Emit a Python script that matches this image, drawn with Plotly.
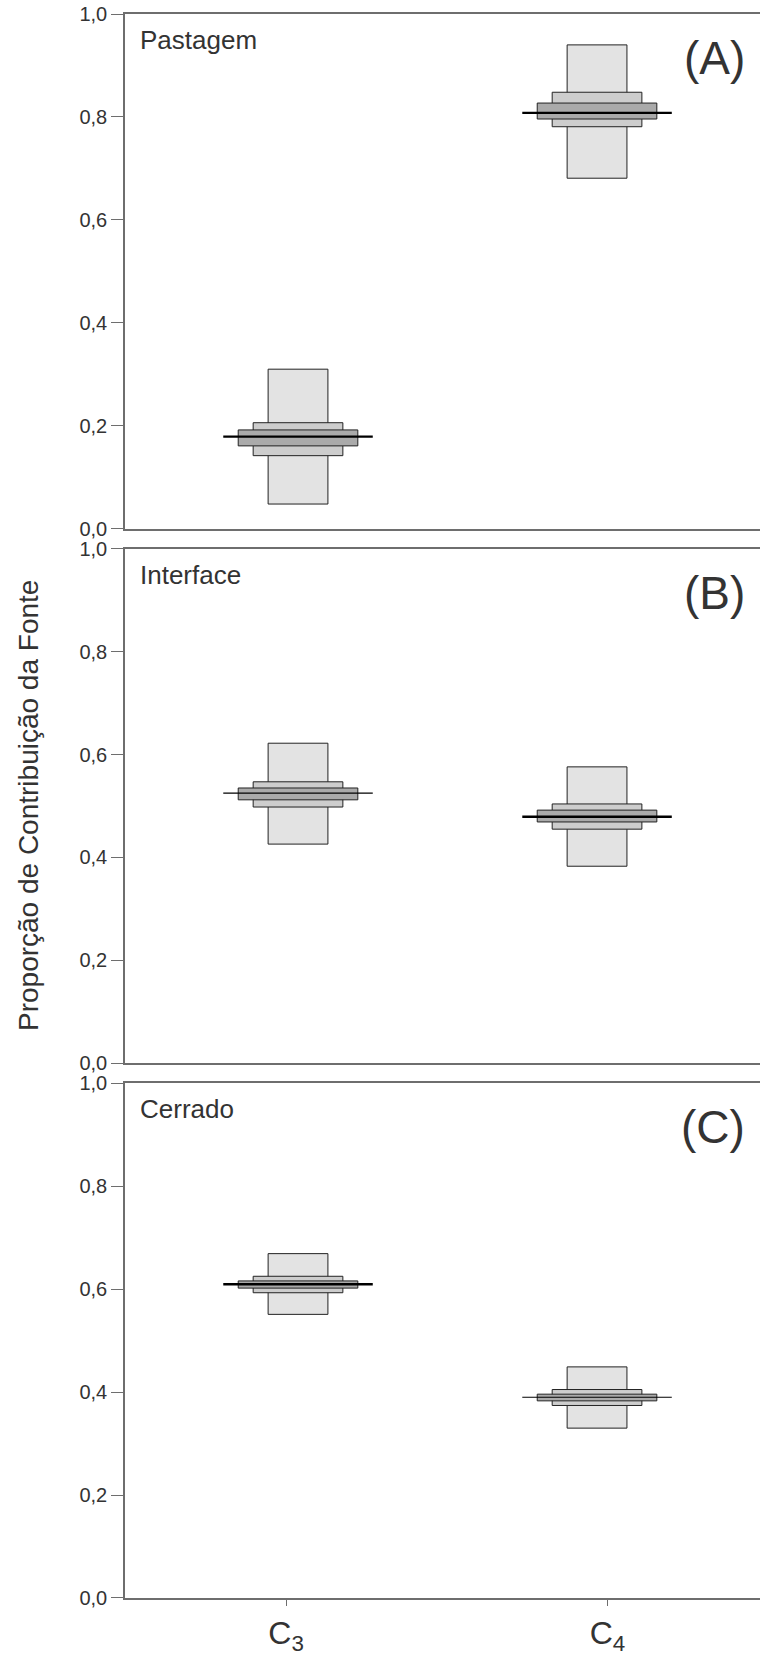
import plotly.graph_objects as go
from plotly.subplots import make_subplots

# ---------------- data ----------------
categories = ["C3", "C4"]
cat_pos = [0, 1]
tick_pos = [-0.04, 1.035]
tick_text = ["C<sub>3</sub>", "C<sub>4</sub>"]
panel_names = ["Pastagem", "Interface", "Cerrado"]
panel_letters = ["(A)", "(B)", "(C)"]
y_tickvals = [0, 0.2, 0.4, 0.6, 0.8, 1.0]
y_ticktext = ["0,0", "0,2", "0,4", "0,6", "0,8", "1,0"]

# Pastagem
pas_outer_lo = [0.048, 0.681]
pas_outer_hi = [0.310, 0.940]
pas_mid_lo = [0.142, 0.781]
pas_mid_hi = [0.206, 0.848]
pas_inn_lo = [0.161, 0.796]
pas_inn_hi = [0.192, 0.827]
pas_med = [0.179, 0.808]

# Interface
int_outer_lo = [0.426, 0.383]
int_outer_hi = [0.622, 0.576]
int_mid_lo = [0.498, 0.455]
int_mid_hi = [0.547, 0.504]
int_inn_lo = [0.512, 0.469]
int_inn_hi = [0.535, 0.492]
int_med = [0.525, 0.479]

# Cerrado
cer_outer_lo = [0.551, 0.330]
cer_outer_hi = [0.669, 0.449]
cer_mid_lo = [0.593, 0.374]
cer_mid_hi = [0.625, 0.405]
cer_inn_lo = [0.602, 0.383]
cer_inn_hi = [0.616, 0.396]
cer_med = [0.6096, 0.390]

panels = [
    (pas_outer_lo, pas_outer_hi, pas_mid_lo, pas_mid_hi, pas_inn_lo, pas_inn_hi, pas_med),
    (int_outer_lo, int_outer_hi, int_mid_lo, int_mid_hi, int_inn_lo, int_inn_hi, int_med),
    (cer_outer_lo, cer_outer_hi, cer_mid_lo, cer_mid_hi, cer_inn_lo, cer_inn_hi, cer_med),
]

# ---------------- styles ----------------
W_OUTER, W_MID, W_INN, W_LINE = 0.2, 0.3, 0.4, 0.5
C_OUTER, C_MID, C_INN = "#e3e3e3", "#cdcdcd", "#aaaaaa"
EDGE = "#222222"
med_widths = [[2.4, 2.4], [1.2, 2.4], [2.4, 1.2]]
FONT = "Liberation Sans, Arial, sans-serif"
TXT = "#333333"
AX = "#6e6e6e"

fig = make_subplots(rows=3, cols=1, vertical_spacing=20 / 1594)

for i, (olo, ohi, mlo, mhi, ilo, ihi, med) in enumerate(panels):
    r = i + 1
    for lo, hi, w, col in [(olo, ohi, W_OUTER, C_OUTER), (mlo, mhi, W_MID, C_MID), (ilo, ihi, W_INN, C_INN)]:
        fig.add_trace(go.Bar(
            x=cat_pos, base=lo, y=[h - l for h, l in zip(hi, lo)], width=w,
            marker=dict(color=col, line=dict(color=EDGE, width=1)),
            showlegend=False, hoverinfo="skip"), row=r, col=1)
    for j, c in enumerate(cat_pos):
        fig.add_trace(go.Scatter(
            x=[c - W_LINE / 2, c + W_LINE / 2], y=[med[j], med[j]], mode="lines",
            line=dict(color="#000000", width=med_widths[i][j]),
            showlegend=False, hoverinfo="skip"), row=r, col=1)

    xa = dict(range=[-0.5786, 1.545], showline=True, linecolor=AX, linewidth=1.5,
              mirror=True, showgrid=False, zeroline=False)
    if r == 3:
        xa.update(tickmode="array", tickvals=tick_pos, ticktext=tick_text, ticks="outside",
                  ticklen=6, tickcolor=AX, tickwidth=1,
                  tickfont=dict(family=FONT, size=32, color=TXT))
    else:
        xa.update(showticklabels=False, ticks="")
    fig.update_xaxes(**xa, row=r, col=1)
    fig.update_yaxes(range=[0, 1], tickmode="array", tickvals=y_tickvals, ticktext=y_ticktext,
                     ticks="outside", ticklen=12, tickcolor=AX, tickwidth=1,
                     showline=True, linecolor=AX, linewidth=1.5, showgrid=False, zeroline=False,
                     tickfont=dict(family=FONT, size=20, color=TXT), row=r, col=1)

    xref = "x domain" if r == 1 else f"x{r} domain"
    yref = "y domain" if r == 1 else f"y{r} domain"
    fig.add_annotation(text=panel_names[i], xref=xref, yref=yref, x=0.0205, y=1,
                       xanchor="left", yanchor="middle", yshift=-26, showarrow=False,
                       font=dict(family=FONT, size=26, color=TXT))
    fig.add_annotation(text=panel_letters[i], xref=xref, yref=yref, x=0.98, y=1,
                       xanchor="right", yanchor="middle", yshift=-44, showarrow=False,
                       font=dict(family=FONT, size=46, color=TXT))

fig.add_annotation(text="Proporção de Contribuição da Fonte", xref="paper", yref="paper",
                   x=(28 - 125) / 635, y=0.5, xanchor="center", yanchor="middle",
                   textangle=-90, showarrow=False, font=dict(family=FONT, size=28, color=TXT))

fig.update_layout(width=760, height=1656, margin=dict(l=125, r=0, t=14, b=48, pad=0),
                  barmode="overlay", plot_bgcolor="white", paper_bgcolor="white",
                  font=dict(family=FONT, color=TXT))

fig.write_html("out.html")
